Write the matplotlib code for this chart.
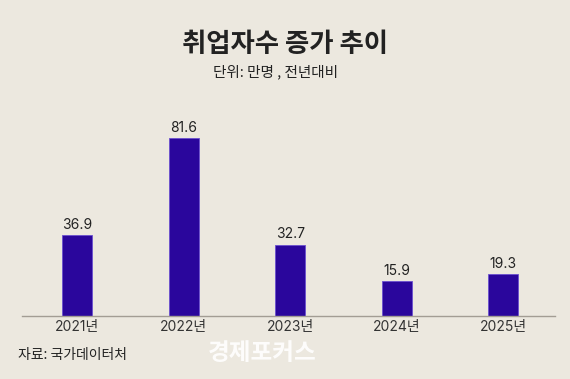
import matplotlib

matplotlib.use("Agg")
import matplotlib.pyplot as plt

plt.rcParams["font.family"] = ["Noto Sans CJK KR", "DejaVu Sans"]
NUM_FONT = ["Inter", "Noto Sans CJK KR"]

years = ["2021년", "2022년", "2023년", "2024년", "2025년"]
values = [36.9, 81.6, 32.7, 15.9, 19.3]

BG = "#ECE8DF"
BAR = "#2A069C"

fig = plt.figure(figsize=(5.7, 3.79), dpi=100, facecolor=BG)
ax = fig.add_axes([22 / 570, 63 / 379, 533 / 570, 216 / 379], facecolor=BG)

x = range(len(years))
ax.bar(x, values, width=0.28, color=BAR, edgecolor="#6A4FD0", linewidth=0.6, zorder=2)
for xi, v in zip(x, values):
    ax.text(xi, v + 1.5, f"{v:.1f}", ha="center", va="bottom", fontsize=10,
            color="#222222", family=NUM_FONT)

ax.set_xlim(-0.516, 4.484)
ax.set_ylim(0, 99)
ax.set_xticks(list(x))
ax.set_xticklabels(years, fontsize=10, color="#333333", family=NUM_FONT)
ax.tick_params(axis="x", length=0, pad=3)
ax.set_yticks([])
for s in ("top", "right", "left"):
    ax.spines[s].set_visible(False)
ax.spines["bottom"].set_color("#A39D94")
ax.spines["bottom"].set_linewidth(1.0)

fig.text(0.5, 1 - 45 / 379, "취업자수 증가 추이", ha="center", va="center",
         fontsize=19, fontweight="bold", color="#222222")
fig.text(213 / 570, 1 - 72 / 379, "단위: 만명 , 전년대비", ha="left", va="center",
         fontsize=10.5, color="#222222")
fig.text(18 / 570, 1 - 355 / 379, "자료: 국가데이터처", ha="left", va="center",
         fontsize=10, color="#222222")
fig.text(262 / 570, 1 - 353 / 379, "경제포커스", ha="center", va="center",
         fontsize=17, fontweight="bold", color="white", alpha=0.9)

fig.savefig("out.png", dpi=100, facecolor=BG)
